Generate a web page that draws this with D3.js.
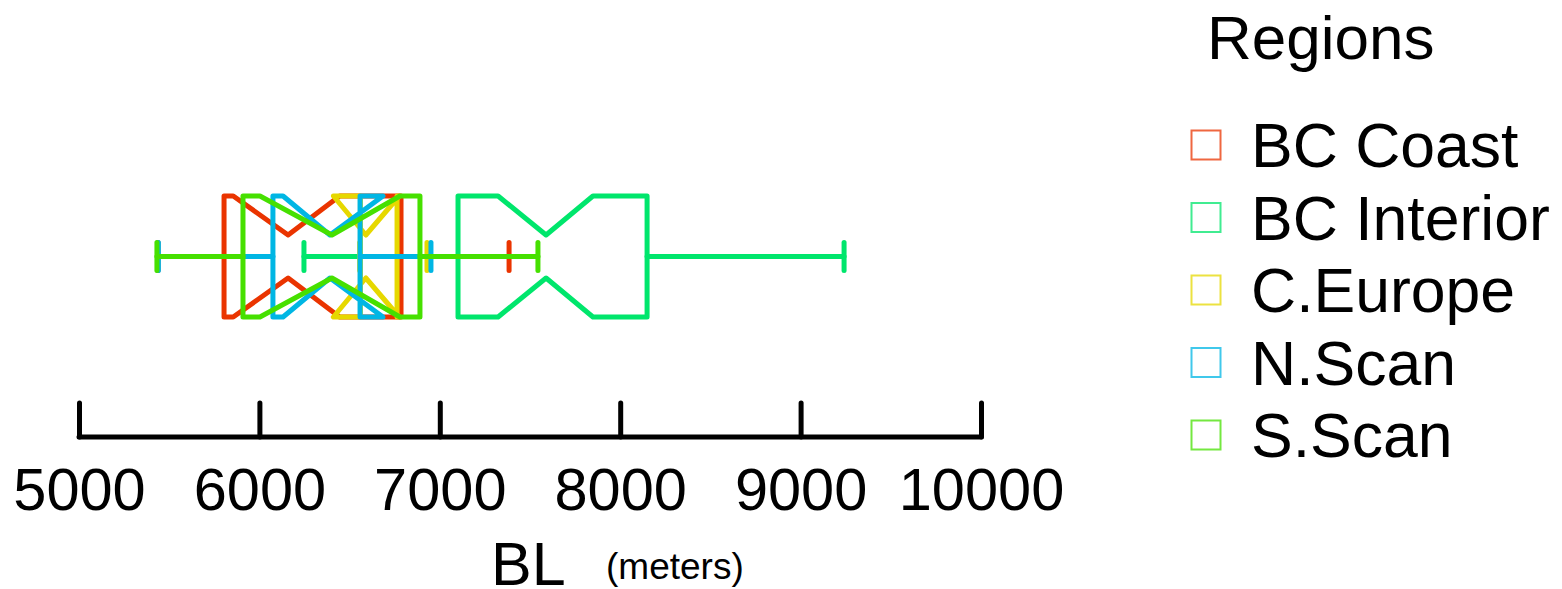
<!DOCTYPE html>
<html>
<head>
<meta charset="utf-8">
<script src="https://cdn.jsdelivr.net/npm/d3@7"></script>
<style>
  html, body { margin: 0; padding: 0; background: #ffffff; }
  svg { display: block; font-family: "Liberation Sans", Arial, sans-serif; }
</style>
</head>
<body>
<svg id="chart" width="1562" height="589"></svg>
<script>
// ---- data ----
const regions     = ["BC Coast", "BC Interior", "C.Europe", "N.Scan", "S.Scan"];
const colors      = ["#ea3400", "#00e66c", "#e6d800", "#00b6e4", "#46e000"];
const lowerWhisk  = [5438, 6247, 6556, 5440, 5432];
const lowerHinge  = [5804, 7101, 6560, 6075, 5909];
const notchLow    = [5855, 7323, 6410, 6131, 6003];
const medians     = [6159, 7589, 6590, 6391, 6402];
const notchHigh   = [6445, 7849, 6775, 6685, 6779];
const upperHinge  = [6785, 8149, 6763, 6558, 6890];
const upperWhisk  = [7384, 9241, 6929, 6951, 7544];
const xTicks      = [5000, 6000, 7000, 8000, 9000, 10000];
const xDomain     = [5000, 10000];
const variable    = "BL";
const unitLabel   = "(meters)";
const legendTitle = "Regions";

const data = regions.map((r, i) => ({
  region: r, color: colors[i],
  lw: lowerWhisk[i], q1: lowerHinge[i], nlo: notchLow[i], med: medians[i],
  nhi: notchHigh[i], q3: upperHinge[i], uw: upperWhisk[i]
}));

// ---- layout ----
const svg = d3.select("#chart");
const x = d3.scaleLinear().domain(xDomain).range([79, 981]);
const y = d3.scaleBand().domain([variable]).range([196, 317]);
const yc = y(variable) + y.bandwidth() / 2;
const half = y.bandwidth() / 2;
const notchHalf = 21.5;
const capHalf = 14;
const lw = 5;

const g = svg.append("g");

data.forEach(d => {
  const grp = g.append("g")
    .attr("fill", "none")
    .attr("stroke", d.color)
    .attr("stroke-width", lw)
    .attr("stroke-linejoin", "round")
    .attr("stroke-linecap", "round");

  // whiskers
  grp.append("line").attr("x1", x(d.lw)).attr("x2", x(d.q1)).attr("y1", yc).attr("y2", yc);
  grp.append("line").attr("x1", x(d.q3)).attr("x2", x(d.uw)).attr("y1", yc).attr("y2", yc);
  grp.append("line").attr("x1", x(d.lw)).attr("x2", x(d.lw)).attr("y1", yc - capHalf).attr("y2", yc + capHalf);
  grp.append("line").attr("x1", x(d.uw)).attr("x2", x(d.uw)).attr("y1", yc - capHalf).attr("y2", yc + capHalf);

  // notched box
  const top = yc - half, bot = yc + half;
  const pts = [
    [x(d.q1), top], [x(d.nlo), top], [x(d.med), yc - notchHalf], [x(d.nhi), top], [x(d.q3), top],
    [x(d.q3), bot], [x(d.nhi), bot], [x(d.med), yc + notchHalf], [x(d.nlo), bot], [x(d.q1), bot]
  ];
  grp.append("path").attr("d", d3.line()(pts) + "Z");
});

// ---- axis ----
const tickFont = 59.5;
const axis = d3.axisBottom(x)
  .tickValues(xTicks)
  .tickFormat(d3.format("d"))
  .tickSizeInner(-34)
  .tickSizeOuter(0)
  .tickPadding(31);

const ax = svg.append("g").attr("transform", "translate(0,437)").call(axis);
ax.select(".domain").attr("stroke", "#000").attr("stroke-width", 5).attr("stroke-linecap", "round")
  .attr("d", `M${x(xDomain[0])},0H${x(xDomain[1])}`);
ax.selectAll(".tick line").attr("stroke", "#000").attr("stroke-width", 5).attr("stroke-linecap", "round");
ax.selectAll(".tick text")
  .attr("fill", "#000")
  .style("font-family", '"Liberation Sans", Arial, sans-serif')
  .style("font-size", tickFont + "px");

// axis title
svg.append("text")
  .attr("x", 491).attr("y", 585)
  .style("font-size", "61px").attr("fill", "#000")
  .text(variable);
svg.append("text")
  .attr("x", 606).attr("y", 579)
  .style("font-size", "37px").attr("fill", "#000")
  .text(unitLabel);

// ---- legend ----
svg.append("text")
  .attr("x", 1207).attr("y", 59)
  .style("font-size", "62px").attr("fill", "#000")
  .text(legendTitle);

const leg = svg.append("g");
const rowY = d3.scaleLinear().domain([0, regions.length - 1]).range([167, 457]);
data.forEach((d, i) => {
  const by = rowY(i);
  leg.append("rect")
    .attr("x", 1191.5).attr("y", by - 36.5)
    .attr("width", 29).attr("height", 29)
    .attr("fill", "none").attr("stroke", d.color)
    .attr("stroke-opacity", 0.75).attr("stroke-width", 2);
  leg.append("text")
    .attr("x", 1251).attr("y", by)
    .style("font-size", "62.5px").attr("fill", "#000")
    .text(d.region);
});
</script>
</body>
</html>
